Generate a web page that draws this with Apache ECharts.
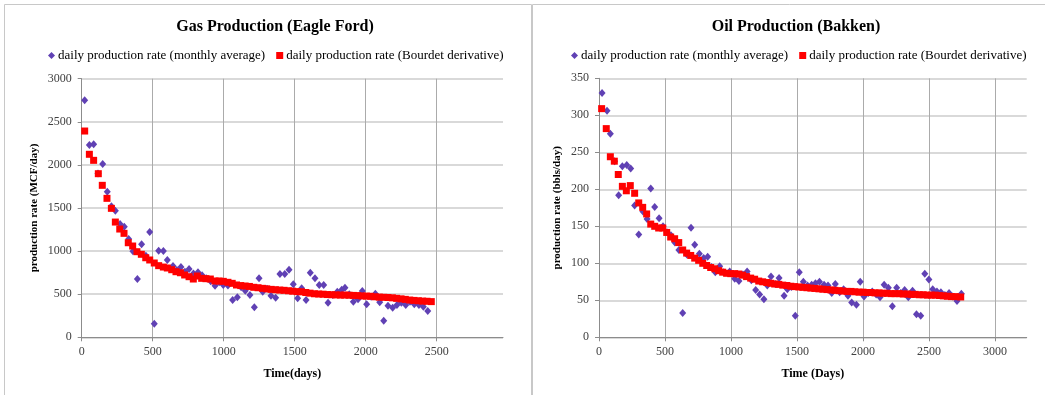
<!DOCTYPE html>
<html>
<head>
<meta charset="utf-8">
<script src="https://cdn.jsdelivr.net/npm/echarts@6/dist/echarts.min.js"></script>
<style>
  html, body { margin: 0; padding: 0; background: #fff; }
  #chart { width: 1045px; height: 395px; }
</style>
</head>
<body>
<div id="chart"></div>
<script>
// Eagle Ford gas: monthly average rate and Bourdet-derivative rate (MCF/day)
var gasAvgDays = [21,54,84,115,148,180,209,237,270,300,331,361,392,422,452,479,511,542,575,603,643,670,699,727,756,787,819,848,877,908,939,968,997,1030,1063,1096,1123,1152,1185,1216,1249,1275,1305,1333,1366,1396,1430,1460,1490,1521,1549,1580,1610,1643,1673,1704,1735,1768,1800,1831,1854,1884,1913,1946,1976,2007,2038,2068,2099,2127,2157,2190,2220,2251,2282,2312,2342,2375,2406,2437];
var gasAvgRate = [2750,2230,2239,1900,2010,1689,1520,1469,1314,1283,1140,998,676,1079,947,1221,158,1005,1001,897,827,780,815,760,792,740,754,720,684,650,599,640,607,600,433,464,580,541,491,348,684,529,562,483,460,734,734,784,615,452,568,433,750,684,607,607,401,491,529,552,575,500,413,441,537,383,470,506,406,193,367,343,375,401,375,413,383,375,355,305];
var gasDerDays = [21,54,84,117,145,178,209,237,268,298,328,359,389,420,451,479,511,542,575,603,634,664,695,725,756,786,814,845,875,906,939,968,997,1030,1060,1090,1120,1151,1181,1212,1242,1273,1303,1334,1364,1395,1425,1456,1486,1517,1547,1578,1608,1639,1669,1700,1730,1761,1791,1822,1852,1883,1913,1944,1974,2005,2035,2066,2096,2127,2157,2188,2218,2249,2279,2310,2340,2371,2401,2432,2462];
var gasDerRate = [2393,2123,2053,1898,1763,1612,1496,1337,1256,1206,1097,1059,993,963,923,897,862,831,815,804,784,761,749,723,703,676,711,684,680,676,653,653,649,638,626,607,600,595,590,580,575,568,562,556,552,548,545,540,535,530,528,520,512,505,502,500,496,494,492,490,490,488,486,484,480,478,476,470,466,464,462,458,452,446,440,432,428,424,420,418,414];

// Bakken oil: monthly average rate and Bourdet-derivative rate (bbls/day)
var oilAvgDays = [23,61,86,118,149,177,210,240,270,301,333,364,392,422,455,485,515,545,575,605,634,665,697,725,760,793,823,852,881,914,945,990,1028,1060,1090,1122,1154,1187,1217,1249,1275,1303,1335,1364,1402,1427,1457,1487,1517,1548,1580,1611,1640,1670,1705,1735,1763,1790,1823,1853,1886,1914,1950,1979,2008,2040,2070,2100,2129,2160,2192,2222,2255,2285,2315,2343,2375,2405,2437,2468,2499,2528,2560,2590,2620,2652,2680,2712,2745];
var oilAvgRate = [330,306,275,238,192,231,233,228,178,139,170,160,201,176,161,150,142,138,128,118,33,112,148,125,113,107,109,95,88,96,88,89,79,76,85,89,77,64,58,51.5,70,82,72,80,56,65,68,29,88,75,70,71,73,75,71,70,60,72,61,65,56,47,44,75,55,60,62,58,54,71,67,42,67,60,64,54,63,31,29,86,78,65,62,61,57,60,55,49,59];
var oilDerDays = [20,55,86,116,146,177,207,237,270,301,331,361,392,422,452,483,513,543,573,604,634,664,695,725,755,786,816,846,877,907,937,967,998,1028,1058,1088,1118,1149,1179,1210,1240,1271,1301,1331,1362,1392,1423,1453,1483,1514,1544,1575,1605,1635,1666,1696,1727,1757,1787,1818,1848,1879,1909,1939,1970,2000,2031,2061,2091,2122,2152,2183,2213,2243,2274,2304,2335,2365,2395,2426,2456,2487,2517,2547,2578,2608,2639,2669,2699,2740];
var oilDerRate = [309,282,244,238,220,204,198,205,194.6,181.6,175.6,166.7,153,150,147.7,147.7,141.7,135.5,133.2,128,118,113.8,110.6,107,104,100,97,94.3,92.6,90,88,86.5,86,86,85.5,84,82,80,78.5,76,75,74,73,72,71.5,70.5,70,69,68.5,68,67.5,67,66.5,66,65.5,65,64.5,64,63.5,63,62.5,62,62,61.5,61,61,60.5,60.5,60,60,59.5,59.5,59,59,59,58.5,58.5,58,58,57.5,57.5,57,57,57,56.5,56,55.5,55,55,54.5];

var titles = ['Gas Production (Eagle Ford)', 'Oil Production (Bakken)'];
var yNames = ['production rate (MCF/day)', 'production rate (bbls/day)'];
var xNames = ['Time(days)', 'Time (Days)'];
var seriesNames = ['daily production rate (monthly average)', 'daily production rate (Bourdet derivative)'];

function pairs(xs, ys) {
  return xs.map(function (x, i) { return [x, ys[i]]; });
}

var FONT = '"Liberation Serif", "Times New Roman", serif';
var AVG_COLOR = '#6041B4';
var DER_COLOR = '#FF0000';

var chart = echarts.init(document.getElementById('chart'), null, { renderer: 'canvas' });

var grids = [
  { left: 81.7, top: 78.7, width: 421.3, height: 258.6 },
  { left: 599, top: 78.3, width: 427.7, height: 259 }
];

function plain(v) { return String(v); }

function xAxis(idx, max) {
  return {
    type: 'value', gridIndex: idx, min: 0, max: max, interval: 500,
    name: xNames[idx], nameLocation: 'middle', nameGap: 31,
    nameTextStyle: { fontFamily: FONT, fontWeight: 'bold', fontSize: 12, color: '#000' },
    axisLine: { show: true, onZero: false, lineStyle: { color: '#8C8C8C', width: 1 } },
    axisTick: { show: true, length: 4, lineStyle: { color: '#8C8C8C' } },
    axisLabel: {
      fontFamily: FONT, fontSize: 12, color: '#404040', margin: 9,
      showMaxLabel: false,
      formatter: function (v) { return v % 500 === 0 ? String(v) : ''; }
    },
    splitLine: { show: true, showMaxLine: false, lineStyle: { color: '#ABABAB', width: 1 } }
  };
}

function yAxis(idx, max, step, gap) {
  return {
    type: 'value', gridIndex: idx, min: 0, max: max, interval: step,
    name: yNames[idx], nameLocation: 'middle', nameGap: gap, nameMoveOverlap: false,
    nameTextStyle: { fontFamily: FONT, fontWeight: 'bold', fontSize: 11, color: '#000' },
    axisLine: { show: true, lineStyle: { color: '#8C8C8C', width: 1 } },
    axisTick: { show: true, length: 4, lineStyle: { color: '#8C8C8C' } },
    axisLabel: { fontFamily: FONT, fontSize: 12, color: '#404040', margin: 10, formatter: plain },
    splitLine: { show: true, lineStyle: { color: '#CCCCCC', width: 1.5 } }
  };
}

function scatter(name, idx, data, symbol, size, color, z) {
  return {
    type: 'scatter', name: name, xAxisIndex: idx, yAxisIndex: idx,
    data: data, symbol: symbol, symbolSize: size, z: z,
    itemStyle: { color: color, opacity: 1 },
    emphasis: { disabled: true }, animation: false
  };
}

var legendBase = {
  data: [
    { name: seriesNames[0], icon: 'diamond' },
    { name: seriesNames[1], icon: 'rect' }
  ],
  top: 44, itemWidth: 7, itemHeight: 7, itemGap: 11,
  textStyle: { fontFamily: FONT, fontSize: 13, color: '#000', padding: [0, 0, 0, -2] },
  selectedMode: false
};

var option = {
  backgroundColor: '#fff',
  animation: false,
  graphic: [
    { type: 'rect', shape: { x: 4.5, y: 4.5, width: 527, height: 410 },
      style: { fill: 'none', stroke: '#C8C8C8', lineWidth: 1 }, silent: true },
    { type: 'rect', shape: { x: 532.5, y: 4.5, width: 530, height: 410 },
      style: { fill: 'none', stroke: '#C8C8C8', lineWidth: 1 }, silent: true }
  ],
  title: [
    { text: titles[0], left: 270, top: 14, textAlign: 'center',
      textStyle: { fontFamily: FONT, fontWeight: 'bold', fontSize: 16, color: '#000' } },
    { text: titles[1], left: 791, top: 14, textAlign: 'center',
      textStyle: { fontFamily: FONT, fontWeight: 'bold', fontSize: 16, color: '#000' } }
  ],
  legend: [
    Object.assign({}, legendBase, { left: 43 }),
    Object.assign({}, legendBase, { left: 566 })
  ],
  grid: grids,
  xAxis: [xAxis(0, 2967), xAxis(1, 3240)],
  yAxis: [yAxis(0, 3000, 500, 42), yAxis(1, 350, 50, 36)],
  series: [
    scatter(seriesNames[0], 0, pairs(gasAvgDays, gasAvgRate), 'diamond', [7, 8], AVG_COLOR, 2),
    scatter(seriesNames[1], 0, pairs(gasDerDays, gasDerRate), 'rect', 7, DER_COLOR, 3),
    scatter(seriesNames[0], 1, pairs(oilAvgDays, oilAvgRate), 'diamond', [7, 8], AVG_COLOR, 2),
    scatter(seriesNames[1], 1, pairs(oilDerDays, oilDerRate), 'rect', 7, DER_COLOR, 3)
  ]
};

chart.setOption(option);
</script>
</body>
</html>
